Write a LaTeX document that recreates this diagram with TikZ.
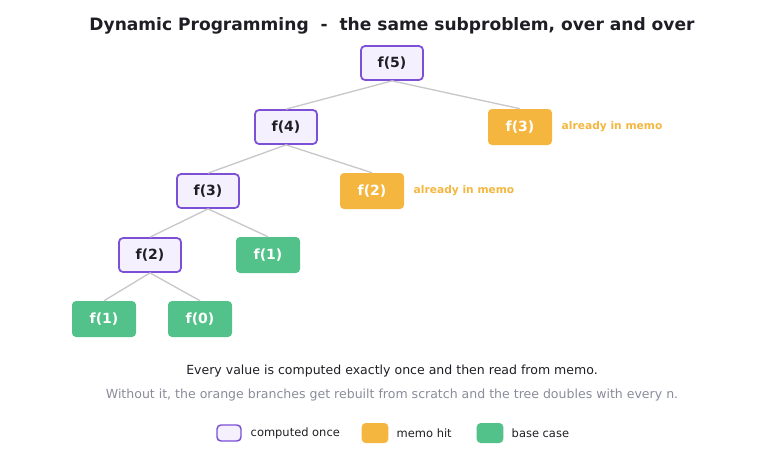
\documentclass[tikz,border=0pt]{standalone}
\usepackage{fontspec}
\setmainfont{DejaVu Sans}
\definecolor{calcline}{HTML}{7B4FD6}
\definecolor{calcfill}{HTML}{F4F0FE}
\definecolor{memo}{HTML}{F4B63F}
\definecolor{base}{HTML}{52C28A}
\definecolor{ink}{HTML}{1E1E24}
\definecolor{mute}{HTML}{8A8C99}
\definecolor{edge}{HTML}{C8C8CC}
\tikzset{
  calc/.style={draw=calcline,line width=1.3pt,fill=calcfill,rounded corners=3pt,
    minimum width=46.5pt,minimum height=25.5pt,font=\bfseries\fontsize{10.5}{12}\selectfont,text=ink},
  hit/.style={fill=memo,rounded corners=3pt,minimum width=48pt,minimum height=27pt,
    font=\bfseries\fontsize{10.5}{12}\selectfont,text=white},
  leaf/.style={hit,fill=base},
  note/.style={font=\bfseries\fontsize{8}{10}\selectfont,text=memo,anchor=west},
  tree/.style={draw=edge,line width=1pt},
}
\begin{document}
\begin{tikzpicture}[x=0.75pt,y=-0.75pt]
\useasboundingbox (0,0) rectangle (784,455);
\node[font=\bfseries\fontsize{12.8}{15}\selectfont,text=ink] (title) at (392,26) {Dynamic Programming\ \ -\ \ the same subproblem, over and over};

\node[calc] (n5) at (392,63) {f(5)};
\node[calc] (n4) at (286,127) {f(4)};
\node[hit] (m3) at (520,127) {f(3)};
\node[calc] (n3) at (208,191) {f(3)};
\node[hit] (m2) at (372,191) {f(2)};
\node[calc] (n2) at (150,255) {f(2)};
\node[leaf] (a1) at (268,255) {f(1)};
\node[leaf] (b1) at (104,319) {f(1)};
\node[leaf] (b0) at (200,319) {f(0)};
\node[note] (t3) at (557,127) {already in memo};
\node[note] (t2) at (409,191) {already in memo};

\draw[tree] (n5.south) -- (n4.north);
\draw[tree] (n5.south) -- (m3.north);
\draw[tree] (n4.south) -- (n3.north);
\draw[tree] (n4.south) -- (m2.north);
\draw[tree] (n3.south) -- (n2.north);
\draw[tree] (n3.south) -- (a1.north);
\draw[tree] (n2.south) -- (b1.north);
\draw[tree] (n2.south) -- (b0.north);

\node[font=\fontsize{9.4}{11}\selectfont,text=ink] (s1) at (392,371) {Every value is computed exactly once and then read from memo.};
\node[font=\fontsize{9.4}{11}\selectfont,text=mute] (s2) at (392,395) {Without it, the orange branches get rebuilt from scratch and the tree doubles with every n.};

% legend
\node[calc,minimum width=18pt,minimum height=12pt,line width=1.1pt] (k1) at (229,433) {};
\node[anchor=west,font=\fontsize{8.6}{10}\selectfont,text=ink] (l1) at (246,433) {computed once};
\node[hit,minimum width=20pt,minimum height=15pt] (k2) at (375,433) {};
\node[anchor=west,font=\fontsize{8.6}{10}\selectfont,text=ink] (l2) at (392,433) {memo hit};
\node[leaf,minimum width=20pt,minimum height=15pt] (k3) at (490,433) {};
\node[anchor=west,font=\fontsize{8.6}{10}\selectfont,text=ink] (l3) at (507,433) {base case};
\end{tikzpicture}
\end{document}
